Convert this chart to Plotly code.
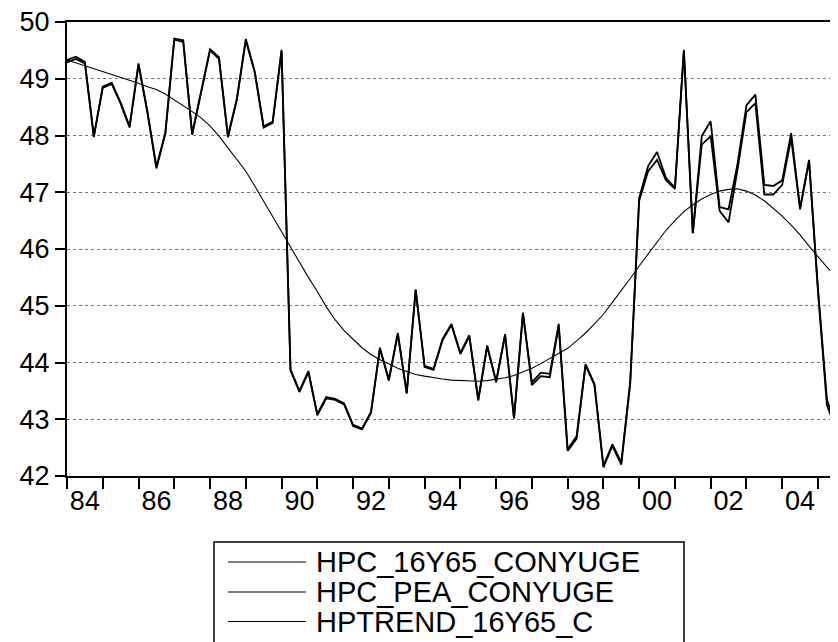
import plotly.graph_objects as go

# ---------------- data (quarterly, 1984Q1 .. 2005Q4) ----------------
start_year = 1984
periods_per_year = 4

series_names = ["HPC_16Y65_CONYUGE", "HPC_PEA_CONYUGE", "HPTREND_16Y65_C"]

hpc_16y65_conyuge = [
    49.33, 49.39, 49.30, 47.99, 48.86, 48.93, 48.58, 48.16,   # 1984-1985
    49.27, 48.42, 47.45, 48.05, 49.71, 49.68, 48.03, 48.78,   # 1986-1987
    49.52, 49.38, 47.99, 48.65, 49.70, 49.13, 48.16, 48.24,   # 1988-1989
    49.51, 43.88, 43.50, 43.85, 43.09, 43.39, 43.36, 43.28,   # 1990-1991
    42.90, 42.84, 43.13, 44.26, 43.70, 44.52, 43.47, 45.29,   # 1992-1993
    43.94, 43.89, 44.41, 44.68, 44.17, 44.48, 43.35, 44.30,   # 1994-1995
    43.67, 44.50, 43.03, 44.88, 43.65, 43.82, 43.80, 44.68,   # 1996-1997
    42.47, 42.70, 43.97, 43.62, 42.18, 42.56, 42.24, 43.67,   # 1998-1999
    46.90, 47.46, 47.71, 47.25, 47.08, 49.51, 46.28, 47.99,   # 2000-2001
    48.25, 46.74, 46.70, 47.50, 48.53, 48.72, 47.13, 47.11,   # 2002-2003
    47.21, 48.04, 46.72, 47.57, 45.30, 43.35, 42.86, 44.20,   # 2004-2005
]

hpc_pea_conyuge = [
    49.29, 49.35, 49.27, 47.97, 48.84, 48.91, 48.56, 48.14,
    49.25, 48.40, 47.42, 48.03, 49.69, 49.65, 48.01, 48.76,
    49.50, 49.35, 47.97, 48.63, 49.68, 49.11, 48.14, 48.22,
    49.49, 43.86, 43.48, 43.83, 43.07, 43.37, 43.34, 43.26,
    42.88, 42.82, 43.11, 44.24, 43.68, 44.50, 43.45, 45.27,
    43.92, 43.87, 44.39, 44.66, 44.15, 44.46, 43.33, 44.28,
    43.65, 44.48, 43.01, 44.86, 43.60, 43.76, 43.74, 44.64,
    42.44, 42.66, 43.95, 43.60, 42.15, 42.53, 42.20, 43.63,
    46.85, 47.37, 47.57, 47.21, 47.06, 49.50, 46.28, 47.84,
    47.99, 46.67, 46.47, 47.40, 48.41, 48.57, 46.96, 46.96,
    47.13, 47.95, 46.70, 47.55, 45.25, 43.25, 42.82, 44.10,
]

hptrend_16y65_c = [
    49.33, 49.28, 49.22, 49.17, 49.12, 49.07, 49.02, 48.97,
    48.92, 48.86, 48.81, 48.73, 48.63, 48.53, 48.42, 48.31,
    48.17, 47.99, 47.78, 47.58, 47.37, 47.11, 46.84, 46.57,
    46.30, 46.02, 45.75, 45.50, 45.25, 44.98, 44.75, 44.56,
    44.41, 44.26, 44.14, 44.05, 43.98, 43.90, 43.84, 43.79,
    43.76, 43.73, 43.71, 43.69, 43.68, 43.67, 43.67, 43.68,
    43.70, 43.73, 43.77, 43.83, 43.90, 43.98, 44.07, 44.16,
    44.25, 44.38, 44.52, 44.68, 44.85, 45.06, 45.26, 45.48,
    45.70, 45.91, 46.12, 46.33, 46.50, 46.66, 46.78, 46.88,
    46.96, 47.02, 47.05, 47.06, 47.02, 46.95, 46.85, 46.72,
    46.58, 46.42, 46.25, 46.05, 45.86, 45.68, 45.52, 45.36,
]

tick_years = [1984, 1986, 1988, 1990, 1992, 1994, 1996, 1998, 2000, 2002, 2004]
tick_labels = ["84", "86", "88", "90", "92", "94", "96", "98", "00", "02", "04"]
year_ticks = list(range(1984, 2006))
y_ticks = [42, 43, 44, 45, 46, 47, 48, 49, 50]

# ---------------- figure ----------------
x = [start_year + i / periods_per_year for i in range(len(hpc_16y65_conyuge))]

FONT = "Liberation Sans, Arial, sans-serif"
fig = go.Figure()
line_widths = [1.8, 1.8, 1.1]
all_series = [hpc_16y65_conyuge, hpc_pea_conyuge, hptrend_16y65_c]
for name, vals, w in zip(series_names, all_series, line_widths):
    fig.add_trace(go.Scatter(x=x, y=vals, mode="lines", name=name,
                             line=dict(color="black", width=w),
                             showlegend=False))

# the page body has an 8px margin, so the figure is sized/offset to compensate
fig.update_layout(
    width=830, height=634,
    margin=dict(l=59, r=0, t=14, b=166),
    paper_bgcolor="white", plot_bgcolor="white",
    font=dict(family=FONT, size=27, color="black"),
    xaxis=dict(
        range=[1984, 2005.56],
        tickmode="array",
        tickvals=[y + 0.5 for y in tick_years],
        ticktext=tick_labels,
        ticks="",
        showgrid=False, zeroline=False,
        showline=True, linecolor="black", linewidth=2, mirror=True,
        tickfont=dict(size=27),
        ticklabeloverflow="allow",
        minor=dict(tickmode="array", tickvals=year_ticks, ticks="outside",
                   ticklen=11, tickwidth=2, tickcolor="black", showgrid=False),
    ),
    yaxis=dict(
        range=[42, 50],
        tickmode="array", tickvals=y_ticks,
        ticks="outside", ticklen=10, tickwidth=1.5, tickcolor="black",
        showgrid=True, gridcolor="#777777", griddash="dot", gridwidth=1,
        zeroline=False,
        showline=True, linecolor="black", linewidth=2,
        tickfont=dict(size=27),
        ticklabeloverflow="allow",
    ),
)

# ---------------- legend (boxed key below the plot) ----------------
def px_x(p):
    return (p - 67) / 771.0

def px_y(p):
    return (476 - p) / 454.0

fig.add_shape(type="rect", xref="paper", yref="paper",
              x0=px_x(214), x1=px_x(684), y0=px_y(650), y1=px_y(542),
              line=dict(color="black", width=1.5), fillcolor="white")
row_y = [562, 592, 621.5]
for name, ry in zip(series_names, row_y):
    fig.add_shape(type="line", xref="paper", yref="paper",
                  x0=px_x(228), x1=px_x(306), y0=px_y(ry), y1=px_y(ry),
                  line=dict(color="black", width=1))
    fig.add_annotation(text=name, xref="paper", yref="paper",
                       x=px_x(314), y=px_y(ry), xanchor="left", yanchor="middle",
                       showarrow=False, font=dict(family=FONT, size=29, color="black"))

fig.write_html("out.html")
